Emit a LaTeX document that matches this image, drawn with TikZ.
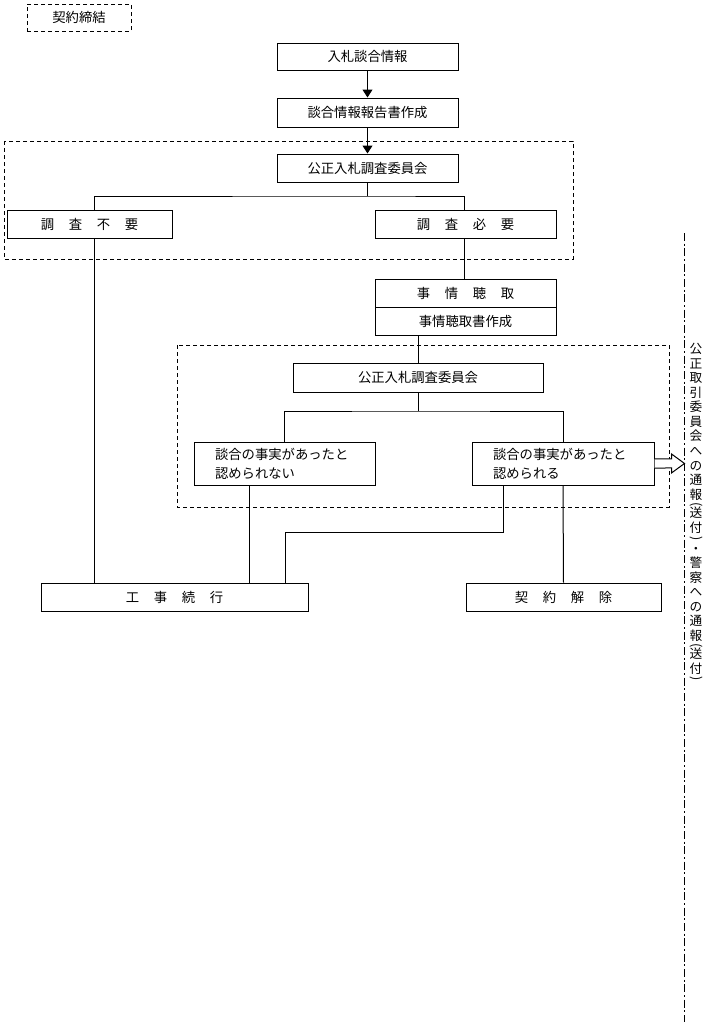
\documentclass[tikz,border=0pt]{standalone}
\usepackage{fontspec}
\usepackage{graphicx}
\setmainfont{Noto Sans CJK JP}
\usetikzlibrary{arrows.meta}

\newcommand{\kgap}{\hspace{1.1em}}
\newcommand{\vlp}{\rotatebox[origin=c]{-90}{(}}
\newcommand{\vrp}{\rotatebox[origin=c]{-90}{)}}

\begin{document}
\begin{tikzpicture}[x=0.75pt, y=-0.75pt, line width=0.75pt,
    >={Triangle[length=6pt,width=7.5pt]},
    font=\fontsize{10}{14}\selectfont,
    box/.style={draw, inner sep=0pt, minimum width=135.75pt, minimum height=21pt},
    grp/.style={draw, dash pattern=on 3pt off 2.25pt, line width=0.6pt}]

  \useasboundingbox (0,0) rectangle (710,1026);

  % dashed groups
  \draw[grp] (4,141) rectangle (573,259);
  \draw[grp] (177,345) rectangle (669,507);

  \node[grp, inner sep=0pt, minimum width=78pt, minimum height=20.25pt] (keiyaku) at (79,17.5) {契約締結};

  \node[box, minimum height=20.25pt] (joho) at (367.5,56.5) {入札談合情報};
  \node[box, minimum height=21.75pt] (hokoku) at (367.5,112.5) {談合情報報告書作成};
  \node[box] (iinkai1) at (367.5,168) {公正入札調査委員会};

  \node[box, minimum width=123.75pt] (fuyo) at (89.5,224) {調\kgap 査\kgap 不\kgap 要};
  \node[box] (hitsuyo) at (465.5,224) {調\kgap 査\kgap 必\kgap 要};

  \node[box] (chosyu) at (465.5,293) {事\kgap 情\kgap 聴\kgap 取};
  \node[box] (chosyusho) at (465.5,321) {事情聴取書作成};

  \node[box, minimum width=187.5pt, minimum height=21.75pt] (iinkai2) at (418,377.5) {公正入札調査委員会};

  \node[box, minimum height=32.25pt, text width=104.25pt, align=left] (nashi) at (284.5,463.5)
    {談合の事実があったと\\認められない};
  \node[box, minimum width=136.5pt, minimum height=32.25pt, text width=105pt, align=left] (ari) at (563,463.5)
    {談合の事実があったと\\認められる};

  \node[box, minimum width=200.25pt] (zokko) at (174.5,597) {工\kgap 事\kgap 続\kgap 行};
  \node[box, minimum width=146.25pt] (kaijo) at (563.5,597) {契\kgap 約\kgap 解\kgap 除};

  % notice column
  \node[anchor=north, align=center, inner sep=0pt, font=\fontsize{9.5}{10.9}\selectfont] (tsuho) at (696,343)
    {公\\正\\取\\引\\委\\員\\会\\へ\\の\\通\\報\\[-4pt]\vlp\\[-4pt]送\\付\\[-3pt]\vrp\\[-3pt]・\\警\\察\\へ\\の\\通\\報\\[-4pt]\vlp\\[-4pt]送\\付\\[-4pt]\vrp};

  \coordinate (tsuhotop) at (684,233);
  \coordinate (tsuhobot) at (684,1022);
  \draw[dash pattern=on 6pt off 2pt on 1.5pt off 2pt] (tsuhotop) -- (tsuhobot);

  % connectors
  \draw[->] (joho) -- (hokoku);
  \draw[->] (hokoku) -- (iinkai1);

  \coordinate (br1) at (367.5,196);
  \draw (iinkai1) -- (br1);
  \draw ([xshift=4.1pt]fuyo.north) |- (br1) -| ([xshift=-1.1pt]hitsuyo.north);
  \draw ([xshift=-1.1pt]hitsuyo.south) -- ([xshift=-1.1pt]chosyu.north);

  \draw (chosyusho.south -| iinkai2.north) -- (iinkai2.north);
  \coordinate (br2) at (418,411);
  \draw (iinkai2) -- (br2);
  \draw (nashi.north) |- (br2) -| (ari.north);

  \draw ([xshift=4.1pt]fuyo.south) -- ([xshift=4.1pt]fuyo.south |- zokko.north);
  \draw ([xshift=-26.6pt]nashi.south) -- ([xshift=-26.6pt]nashi.south |- zokko.north);
  \draw ([xshift=-45pt]ari.south) -- ++(0,47) -| ([xshift=83.6pt]zokko.north);
  \draw (ari.south) -- (kaijo.north);

  % open arrow to the notice
  \draw[fill=white] ([yshift=3.4pt]ari.east) -- ++(17,0) -- ++(0,-5) -- ++(13,9.5)
    -- ++(-13,9.5) -- ++(0,-5) -- ([yshift=-3.4pt]ari.east);

\end{tikzpicture}
\end{document}
